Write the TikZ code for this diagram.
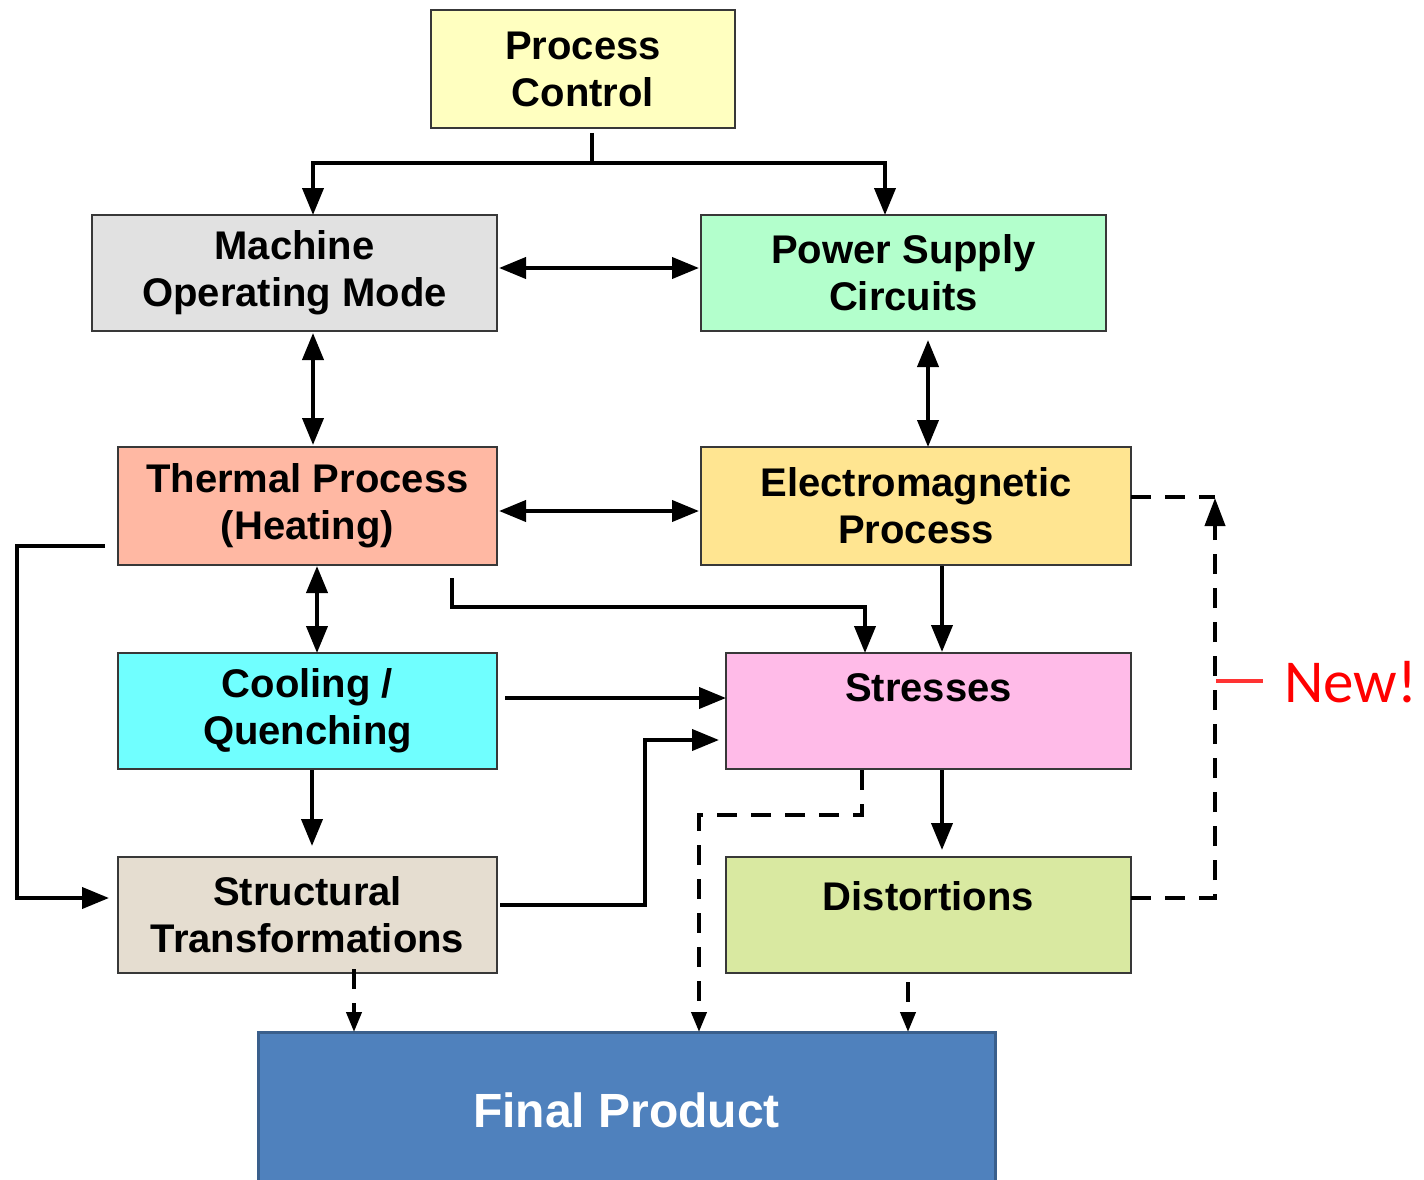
\documentclass[tikz,border=0pt]{standalone}
\usepackage{fontspec}
\setmainfont{Liberation Sans}
\newfontfamily\calib{Carlito}
\usetikzlibrary{arrows.meta,calc}
\definecolor{cPC}{HTML}{FFFFC0}
\definecolor{cMO}{HTML}{E1E1E1}
\definecolor{cPS}{HTML}{B3FFCC}
\definecolor{cTP}{HTML}{FFB8A3}
\definecolor{cEM}{HTML}{FFE591}
\definecolor{cCQ}{HTML}{70FFFF}
\definecolor{cST}{HTML}{FFBBE8}
\definecolor{cSF}{HTML}{E5DDD0}
\definecolor{cDI}{HTML}{D9E9A1}
\definecolor{cFP}{HTML}{4F81BD}
\definecolor{cFPb}{HTML}{3A5F8C}
\definecolor{cNew}{HTML}{FF0000}
\tikzset{
  box/.style={draw=black!78, line width=2.5pt, inner sep=0pt, align=center,
    font=\fontsize{40}{47}\selectfont\bfseries},
  conn/.style={line width=4pt, draw=black},
  arr/.style={conn, -{Triangle[length=27pt,width=21pt]}},
  darr/.style={conn, {Triangle[length=27pt,width=21pt]}-{Triangle[length=27pt,width=21pt]}},
  dsh/.style={conn, dash pattern=on 20pt off 14pt},
  dsharr/.style={dsh, -{Triangle[length=20pt,width=15pt]}},
  dsharrbig/.style={dsh, -{Triangle[length=28pt,width=20pt]}},
}
\begin{document}
\begin{tikzpicture}[x=1pt,y=-1pt]
\useasboundingbox (0,0) rectangle (1424,1180);
\clip (0,0) rectangle (1424,1180);
\fill[white] (0,0) rectangle (1424,1180);

% boxes
\node[box, fill=cPC, minimum width=304pt, minimum height=118pt] (pc) at (583,69) {Process\\Control};
\node[box, fill=cMO, minimum width=405pt, minimum height=116pt] (mo) at (294.5,273) {Machine\\Operating Mode};
\node[box, fill=cPS, minimum width=405pt, minimum height=116pt] (ps) at (903.5,273) {Power Supply\\Circuits};
\node[box, fill=cTP, minimum width=379pt, minimum height=118pt] (tp) at (307.5,506) {Thermal Process\\(Heating)};
\node[box, fill=cEM, minimum width=430pt, minimum height=118pt] (em) at (916,506) {Electromagnetic\\Process};
\node[box, fill=cCQ, minimum width=379pt, minimum height=116pt] (cq) at (307.5,711) {Cooling /\\Quenching};
\node[box, fill=cST, minimum width=405pt, minimum height=116pt] (st) at (928.5,711) {Stresses\\\mbox{}};
\node[box, fill=cSF, minimum width=379pt, minimum height=116pt] (sf) at (307.5,915) {Structural\\Transformations};
\node[box, fill=cDI, minimum width=405pt, minimum height=116pt] (di) at (928.5,915) {Distortions\\[-8pt]\mbox{}};
\node[draw=cFPb, fill=cFP, line width=3pt, inner sep=0pt, minimum width=737pt, minimum height=156pt,
      text=white, font=\fontsize{48}{56}\selectfont\bfseries] (fp) at (626.5,1110) {Final Product};

% process control split
\coordinate (pcj) at (592,163);
\draw[conn] (592,133) -- (pcj);
\draw[arr] (pcj) -| (313,215);
\draw[arr] (pcj) -| (885,215);

% double arrows
\draw[darr] (499,268) -- (699,268);
\draw[darr] (313,333) -- (313,445);
\draw[darr] (928,340) -- (928,447);
\draw[darr] (499,511) -- (699,511);
\draw[darr] (317,566) -- (317,653);

% thermal feedback to structural
\draw[arr] (105,546) -- (17,546) -- (17,898) -- (109,898);
% thermal to stresses
\draw[arr] (452,578) -- (452,607) -- (865,607) -- (865,653);
% EM to stresses
\draw[arr] (942,566) -- (942,652);
% cooling to stresses
\draw[arr] (505,698) -- (726,698);
% structural to stresses
\draw[arr] (500,905) -- (645,905) -- (645,740) -- (719,740);
% cooling to structural
\draw[arr] (312,770) -- (312,846);
% stresses to distortions
\draw[arr] (942,770) -- (942,850);

% dashed to final product
\draw[dsharr] (862,770) -- (862,815) -- (699,815) -- (699,1032);
\draw[dsharr] (354,969) -- (354,1032);
\draw[dsharr] (908,982) -- (908,1032);

% right feedback loop
\draw[dsh] (1131,497) -- (1215,497);
\draw[dsharrbig] (1131,898) -- (1215,898) -- (1215,498);

% New!
\draw[draw=cNew!80, line width=4pt] (1216,681) -- (1263,681);
\node[anchor=base west, inner sep=0pt, text=cNew, font=\calib\fontsize{61}{70}\selectfont] (newlbl) at (1284,702) {New!};
\end{tikzpicture}
\end{document}
